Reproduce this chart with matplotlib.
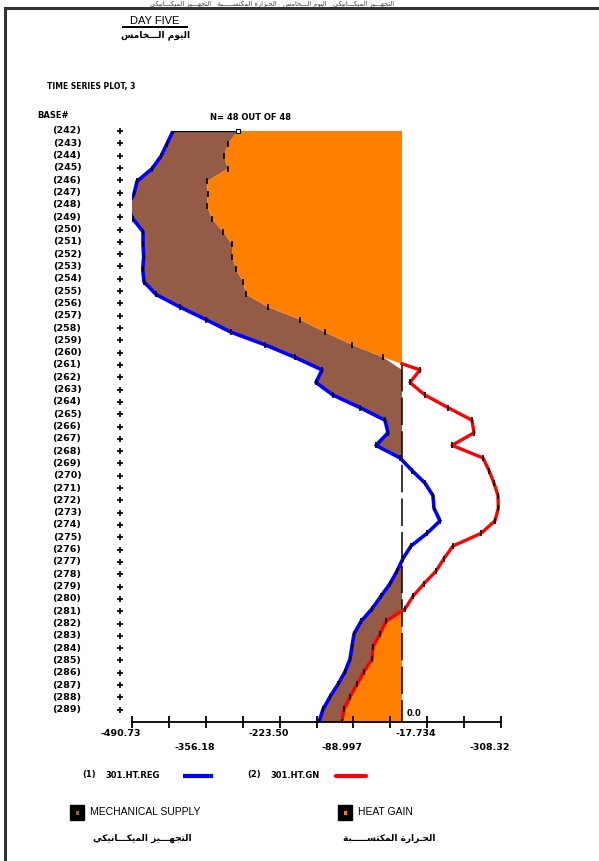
import numpy as np
import matplotlib
matplotlib.use("Agg")
import matplotlib.pyplot as plt
from matplotlib.lines import Line2D
from matplotlib.patches import Rectangle
import matplotlib.transforms as mtransforms

# ---------------- data ----------------
row_labels = [f"({n})" for n in range(242, 290)]

# 301.HT.REG  (mechanical supply) – blue
blue_reg = [-416.2, -427.1, -438.0, -454.4, -481.6, -487.1, -499.8, -488.9,
            -470.7, -470.7, -469.5, -471.2, -468.9, -447.1, -403.5, -356.2,
            -310.8, -249.0, -194.5, -145.4, -156.3, -125.4, -76.3, -30.9,
            -25.4, -47.3, -3.6, 18.2, 41.8, 56.3, 58.2, 69.1,
            45.4, 16.4, 1.8, -9.1, -21.8, -38.2, -54.5, -74.5,
            -87.2, -90.9, -94.5, -103.6, -116.3, -130.9, -143.6, -150.9]

# 301.HT.GN  (heat gain) – red
red_gn = [-298.1, -316.2, -323.5, -316.2, -354.4, -352.8, -354.0, -345.3,
          -325.3, -309.0, -308.6, -301.7, -289.0, -283.5, -243.5, -185.4,
          -139.9, -90.9, -34.5, 32.7, 14.5, 41.8, 83.6, 127.2,
          130.9, 90.9, 147.2, 158.1, 167.2, 174.5, 175.1, 169.0,
          143.6, 92.7, 76.3, 61.8, 40.0, 20.0, 5.5, -29.1,
          -40.0, -52.7, -54.5, -69.1, -81.8, -94.5, -105.4, -109.1]

axis_start = -490.73
axis_step = 67.07
n_ticks = 11
tick_labels = ["-490.73", "-356.18", "-223.50", "-88.997", "-17.734", "-308.32"]

series_names = ["301.HT.REG", "301.HT.GN"]
legend_names = ["MECHANICAL SUPPLY", "HEAT GAIN"]

BLUE = "#0000ff"
RED = "#ff0000"
BROWN = "#945b47"
ORANGE = "#ff8000"

# Arabic strings (pre-shaped presentation forms, visual order)
ar_title = "ﺲﻣﺎﺨـــﻟﺍ ﻡﻮﻴﻟﺍ"
ar_mech = "ﻲﻜﻴﻧﺎـــﻜﻴﻤﻟﺍ ﺰﻴـــﻬﺠﺘﻟﺍ"
ar_heat = "ﺔﺒـــــﺴﺘﻜﻤﻟﺍ ﺓﺭﺍﺮـﺤﻟﺍ"

W, H = 599, 861


def fx(px):
    return px / W


def fy(py):
    return 1 - py / H


fig = plt.figure(figsize=(W / 100, H / 100), dpi=100)
fig.patch.set_facecolor("white")

ax = fig.add_axes([fx(132), fy(722), (501 - 132) / W, (722 - 131) / H])
ax.set_xlim(axis_start, axis_start + (n_ticks - 1) * axis_step)
ax.set_ylim(48, 0)
for s in ["top", "right", "left"]:
    ax.spines[s].set_visible(False)
ax.spines["bottom"].set_linewidth(1.3)
ticks = axis_start + axis_step * np.arange(n_ticks)
ax.set_xticks(ticks)
ax.tick_params(axis="x", direction="inout", length=9, width=1.3,
               labelbottom=False)
ax.set_yticks([])
ax.patch.set_alpha(0)

blue = np.array(blue_reg)
red = np.array(red_gn)
n = len(blue)
yd = np.linspace(0, 48, n)
low = np.minimum(red, 0)

ax.fill_betweenx(yd, blue, low, where=blue < low, interpolate=True,
                 color=BROWN, lw=0, zorder=1)
ax.fill_betweenx(yd, red, 0, where=red < 0, interpolate=True,
                 color=ORANGE, lw=0, zorder=1)

# zero reference (dashed) starting where heat gain becomes positive
j = int(np.argmax(red >= 0))
t = -red[j - 1] / (red[j] - red[j - 1])
ycross = yd[j - 1] + t * (yd[j] - yd[j - 1])
ax.plot([0, 0], [ycross, 48], color="black", lw=1.1, dashes=(18, 4), zorder=2)

ax.plot(blue, yd, color=BLUE, lw=2.6, zorder=3, solid_capstyle="butt")
red_vis = np.concatenate([[0.0], red[j:]])
y_vis = np.concatenate([[ycross], yd[j:]])
ax.plot(red_vis, y_vis, color=RED, lw=2.4, zorder=3)
ax.plot(blue, yd, ls="none", marker="|", ms=4, mew=1.2, color="black", zorder=4)
ax.plot(red, yd, ls="none", marker="|", ms=4, mew=1.2, color="black", zorder=4)

# top connector
ax.plot([blue[0], red[0]], [yd[0], yd[0]], color="black", lw=0.9, zorder=4)
ax.plot([red[0]], [yd[0]], marker="s", ms=3.5, mfc="white", mec="black",
        mew=0.8, zorder=5, clip_on=False)

# 0.0 label
tr = mtransforms.offset_copy(ax.transData, fig=fig, x=5, y=4, units="dots")
ax.text(0, 48, "0.0", transform=tr, ha="left", va="bottom", fontsize=6,
        fontweight="bold", family="DejaVu Sans")

# tick labels (alternating rows)
for i, lab in enumerate(tick_labels):
    k = 2 * i
    tr = mtransforms.offset_copy(ax.get_xaxis_transform(), fig=fig, x=-11,
                                 y=-(12 + 14 * (i % 2)), units="dots")
    ax.text(ticks[k], 0, lab, transform=tr, ha="center", va="center",
            fontsize=6.8, fontweight="bold", family="DejaVu Sans")

# row labels and plus column
bt = mtransforms.blended_transform_factory(fig.transFigure, ax.transData)
for i, lab in enumerate(row_labels):
    ax.text(fx(67), i, lab, transform=bt, ha="center", va="center",
            fontsize=6.8, fontweight="bold", family="DejaVu Sans", clip_on=False)
ax.plot(np.full(len(row_labels), fx(120)), np.arange(len(row_labels)),
        ls="none", marker="+", ms=5, mew=1.2, color="black", transform=bt,
        clip_on=False)

# ---------------- texts ----------------
fig.text(fx(155), fy(21), "DAY FIVE", ha="center", va="center", fontsize=8,
         family="Liberation Sans")
fig.add_artist(Line2D([fx(123), fx(187)], [fy(27), fy(27)], color="black",
                      lw=1.4))
fig.text(fx(156), fy(35), ar_title, ha="center", va="center", fontsize=6.5,
         family="DejaVu Sans", fontweight="bold")

fig.text(fx(47), fy(87), "TIME SERIES PLOT, 3", ha="left", va="center",
         fontsize=5.5, fontweight="bold", family="DejaVu Sans")
fig.text(fx(37), fy(116), "BASE#", ha="left", va="center", fontsize=6,
         fontweight="bold", family="DejaVu Sans")
fig.text(fx(210), fy(118), "N= 48 OUT OF 48", ha="left", va="center",
         fontsize=6, fontweight="bold", family="DejaVu Sans")

# series legend row
fig.text(fx(82), fy(775), "(1)", ha="left", va="center", fontsize=6,
         fontweight="bold", family="DejaVu Sans")
fig.text(fx(105), fy(775), series_names[0], ha="left", va="center",
         fontsize=6, fontweight="bold", family="DejaVu Sans")
fig.add_artist(Line2D([fx(183), fx(213)], [fy(776), fy(776)], color=BLUE,
                      lw=3, solid_capstyle="butt"))
fig.text(fx(247), fy(775), "(2)", ha="left", va="center", fontsize=6,
         fontweight="bold", family="DejaVu Sans")
fig.text(fx(270), fy(775), series_names[1], ha="left", va="center",
         fontsize=6, fontweight="bold", family="DejaVu Sans")
fig.add_artist(Line2D([fx(336), fx(366)], [fy(776), fy(776)], color=RED,
                      lw=3, solid_capstyle="round"))

# area legend
for (bx, col, name, ar, tx, ax_ar) in [
        (70, BROWN, legend_names[0], ar_mech, 90, 142),
        (338, ORANGE, legend_names[1], ar_heat, 358, 389)]:
    fig.add_artist(Rectangle((fx(bx), fy(820)), 14 / W, 15 / H,
                             transform=fig.transFigure, facecolor="black",
                             edgecolor="black"))
    fig.add_artist(Rectangle((fx(bx + 5.5), fy(814.5)), 3.5 / W, 3.5 / H,
                             transform=fig.transFigure, facecolor=col,
                             edgecolor="none"))
    fig.text(fx(tx), fy(812), name, ha="left", va="center", fontsize=7.5,
             family="Liberation Sans")
    fig.text(fx(ax_ar), fy(838), ar, ha="center", va="center", fontsize=6.5,
             family="DejaVu Sans", fontweight="bold")

# frame
fig.add_artist(Line2D([fx(5), fx(5)], [fy(8), fy(870)], color="#333333", lw=2.2))
fig.add_artist(Line2D([fx(5), fx(610)], [fy(8), fy(8)], color="#333333", lw=2.2))
# small header text above the frame
fig.text(fx(150), fy(0.5), ar_mech + "   " + ar_heat + "   " + ar_title + "   " + ar_mech,
         ha="left", va="top", fontsize=4.8, family="DejaVu Sans", color="#444444")

fig.savefig("out.png", dpi=100)
